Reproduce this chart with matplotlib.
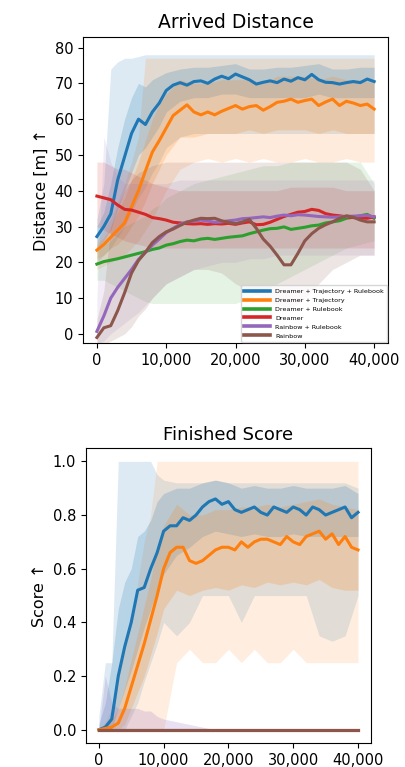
import matplotlib
matplotlib.use("Agg")
import matplotlib.pyplot as plt
from matplotlib.ticker import StrMethodFormatter

# Training steps for the mean curves and for the shaded bands
steps = [i * 1000 for i in range(41)]
band_steps = [0, 1000, 2000, 3000, 4000, 5000, 6000, 7000, 8000, 9000, 10000,
              12000, 14000, 16000, 18000, 20000, 22000, 24000, 26000, 28000,
              30000, 32000, 34000, 36000, 38000, 40000]

labels = [
    "Dreamer + Trajectory + Rulebook",
    "Dreamer + Trajectory",
    "Dreamer + Rulebook",
    "Dreamer",
    "Rainbow + Rulebook",
    "Rainbow",
]
colors = ["#1f77b4", "#ff7f0e", "#2ca02c", "#d62728", "#9467bd", "#8c564b"]

# ---- Arrived distance [m] ----
dist_dtr = [27.2, 30, 33.5, 43, 49.5, 56, 60, 58.5, 62, 64.5, 68, 69.5, 70.2, 69.5,
            70.5, 70.7, 70, 71.2, 72, 71.3, 72.6, 71.8, 71, 69.8, 70.3, 70.7, 70.2,
            71.2, 70.6, 71.6, 71, 72.5, 71, 70.3, 70.2, 69.8, 70.2, 70.5, 70.2, 71.2, 70.5]
dist_dt = [23.4, 25, 27, 29, 31, 35.5, 40, 45.5, 50.8, 54, 57.5, 61, 62.5, 64, 62,
           61.2, 62, 61.2, 62.2, 63, 63.8, 62.8, 63.5, 63.8, 62.5, 63.5, 64.7, 65,
           65.6, 64.7, 65.2, 65.6, 63.8, 64.8, 65.6, 63.8, 65, 64.5, 63.8, 64.2, 62.8]
dist_dr = [19.5, 20.2, 20.6, 21, 21.5, 22, 22.5, 23, 23.6, 24, 24.8, 25.2, 25.8, 26.2,
           26, 26.5, 26.7, 26.4, 26.7, 27, 27.2, 27.4, 28, 28.5, 29, 29.4, 29.5, 29.9,
           29.2, 29.5, 29.8, 30.2, 30.4, 31, 31.3, 31.6, 32.3, 32.6, 33, 33.4, 32.3]
dist_d = [38.5, 38, 37.5, 36, 34.8, 34.6, 34, 33.4, 32.5, 32.2, 31.8, 31.2, 31, 30.8,
          30.7, 30.8, 30.6, 30.8, 30.7, 30.9, 30.6, 31, 31.3, 30.5, 30.6, 31.2, 32,
          32.8, 33.4, 34, 34.2, 34.8, 34.5, 33.6, 33.2, 33, 32.7, 32.5, 32.4, 32.3, 32.7]
dist_rr = [0.7, 5, 10, 13, 15.5, 18, 20.8, 22.8, 24.8, 26.5, 28.3, 29.5, 30.6, 31.3,
           31.5, 31.8, 31.5, 31.2, 31.3, 31.6, 31.8, 32.2, 32.3, 32.5, 32.7, 32.5,
           32.9, 33.2, 33, 33.3, 33.2, 33, 32.8, 32.7, 32.6, 32.7, 32.8, 32.9, 33, 33.1, 32.7]
dist_r = [-1, 1.7, 2.3, 6.5, 11.5, 17, 20.5, 22.8, 25.5, 27.2, 28.5, 29.3, 30.3, 31.2,
          31.8, 32.3, 32.2, 32.3, 31.6, 31.2, 30.8, 31.3, 32, 29.5, 26.5, 24.5, 22,
          19.3, 19.3, 22.5, 26, 28, 29.5, 30.5, 31.3, 32.3, 33, 32.6, 31.8, 31.3, 31.3]

# bands: (lower, upper), inner spread and outer range
dist_dtr_in_lo = [24, 26, 29, 35, 40, 45, 50, 52, 55, 58, 62, 65, 66, 66, 67, 67, 66,
                  66, 66, 66, 66, 67, 66, 66, 66, 66]
dist_dtr_in_hi = [30, 34, 42, 52, 60, 66, 70, 69, 71, 72, 73, 74, 74.5, 74.5, 75, 75.5,
                  74, 74, 74.5, 74.5, 75, 75.5, 74, 74, 74.5, 74.5]
dist_dtr_out_lo = [20, 22, 24, 27, 30, 34, 38, 41, 45, 48, 52, 55, 56, 56, 56, 56, 56,
                   56, 56, 56, 56, 56, 56, 56, 56, 56]
dist_dtr_out_hi = [32, 42, 74, 76, 77, 77, 77.5, 78, 78, 78, 78, 78, 78, 78, 78, 78, 78,
                   78, 78, 78, 78, 78, 78, 78, 78, 78]
dist_dt_in_lo = [21, 22, 24, 25, 27, 30, 33, 37, 42, 46, 50, 55, 55, 56, 56, 56, 57, 56,
                 57, 57, 57, 56, 57, 56, 56, 56]
dist_dt_in_hi = [25, 27, 30, 34, 38, 43, 48, 54, 60, 64, 67, 71, 70, 70, 71, 71, 71, 70,
                 72, 72, 72, 71, 72, 71, 71, 70]
dist_dt_out_lo = [18, 19, 20, 21, 22, 24, 26, 29, 32, 36, 40, 46, 48, 49, 48, 49, 48,
                  49, 48, 48, 49, 48, 48, 49, 48, 48]
dist_dt_out_hi = [26, 29, 32, 37, 42, 48, 55, 77, 77, 77, 77, 77, 77, 77, 77, 77, 77, 77,
                  77, 77, 77, 77, 77, 77, 77, 77]
dist_dr_lo = [15, 15, 14, 13, 12, 11, 10, 9, 8.5, 8.5, 8.5, 8.5, 8.5, 8.5, 8.5, 8.5, 10,
              12, 14, 16, 18, 20, 22, 24, 25, 26]
dist_dr_hi = [24, 25, 26, 28, 30, 31, 32, 33, 35, 36, 38, 40, 42, 43, 44, 45, 46, 47, 47,
              48, 48, 48, 48, 48, 48, 42]
dist_d_lo = [30, 29, 28, 27, 26, 25.5, 25, 24.5, 24, 24, 24, 24, 24, 24, 24, 24, 24, 24,
             24, 24, 24, 24, 24, 24, 24, 24]
dist_d_hi = [48, 48, 47, 46, 46, 45, 44, 43, 42, 41.5, 41, 40, 40, 40, 40, 40, 40, 40,
             40, 41, 41, 41, 41, 40, 40, 40]
dist_rr_lo = [-3, -2, 0, 1.5, 3, 4.5, 6, 8, 10, 12, 14, 16, 18, 19, 20, 20, 21, 21, 22,
              22, 22, 22, 22, 22, 22, 22]
dist_rr_hi = [10, 55, 48, 44, 42, 42, 42, 42, 42, 42, 42, 43, 43, 43, 43, 43, 43, 43, 43,
              43, 43, 43, 43, 43, 43, 43]
dist_r_lo = [-3, -3, -2, -1, 0, 2, 5, 7, 10, 12, 14, 16, 18, 18, 17, 14, 12, 10, 8, 7,
             10, 14, 18, 20, 22, 22]
dist_r_hi = [4, 12, 30, 36, 40, 43, 45, 46, 47, 47.5, 48, 48, 48, 48, 48, 48, 48, 48, 48,
             48, 48, 48, 48, 48, 46, 40]

# ---- Finished score ----
score_dtr = [0, 0.01, 0.04, 0.2, 0.31, 0.4, 0.52, 0.53, 0.6, 0.66, 0.74, 0.76, 0.76,
             0.79, 0.78, 0.8, 0.83, 0.85, 0.86, 0.84, 0.85, 0.82, 0.81, 0.82, 0.83,
             0.81, 0.8, 0.83, 0.82, 0.81, 0.83, 0.82, 0.8, 0.83, 0.82, 0.8, 0.81, 0.82,
             0.83, 0.79, 0.81]
score_dt = [0, 0.005, 0.01, 0.025, 0.08, 0.16, 0.24, 0.32, 0.41, 0.5, 0.6, 0.66, 0.68,
            0.68, 0.63, 0.62, 0.63, 0.65, 0.67, 0.68, 0.68, 0.67, 0.7, 0.68, 0.7, 0.71,
            0.71, 0.7, 0.69, 0.72, 0.7, 0.69, 0.72, 0.73, 0.74, 0.71, 0.73, 0.69, 0.72,
            0.68, 0.67]
score_none = [0.0] * 41  # the remaining four agents never finish

score_dtr_in_lo = [0, 0, 0, 0.08, 0.15, 0.22, 0.3, 0.38, 0.45, 0.52, 0.58, 0.65, 0.68,
                   0.72, 0.74, 0.73, 0.72, 0.73, 0.72, 0.72, 0.73, 0.72, 0.72, 0.72,
                   0.72, 0.72]
score_dtr_in_hi = [0.02, 0.1, 0.25, 0.45, 0.55, 0.6, 0.72, 0.74, 0.78, 0.85, 0.88, 0.9,
                   0.9, 0.92, 0.93, 0.92, 0.9, 0.91, 0.9, 0.9, 0.91, 0.9, 0.9, 0.9,
                   0.91, 0.88]
score_dtr_out_lo = [0, 0, 0, 0, 0, 0.05, 0.1, 0.18, 0.25, 0.32, 0.4, 0.35, 0.4, 0.5,
                    0.5, 0.5, 0.4, 0.5, 0.5, 0.5, 0.5, 0.5, 0.35, 0.33, 0.35, 0.5]
score_dtr_out_hi = [0.05, 0.25, 0.25, 1.0, 1.0, 1.0, 1.0, 1.0, 1.0, 0.95, 0.93, 0.92,
                    0.92, 0.92, 0.93, 0.92, 0.92, 0.92, 0.92, 0.92, 0.92, 0.92, 0.92,
                    0.92, 0.92, 0.9]
score_dt_in_lo = [0, 0, 0, 0, 0.02, 0.08, 0.14, 0.2, 0.28, 0.36, 0.45, 0.52, 0.5, 0.52,
                  0.53, 0.52, 0.54, 0.53, 0.55, 0.54, 0.55, 0.54, 0.56, 0.53, 0.52, 0.52]
score_dt_in_hi = [0, 0.02, 0.04, 0.08, 0.16, 0.26, 0.36, 0.46, 0.56, 0.68, 0.76, 0.84,
                  0.8, 0.8, 0.82, 0.82, 0.83, 0.83, 0.84, 0.83, 0.84, 0.85, 0.86, 0.84,
                  0.83, 0.82]
score_dt_out_lo = [0, 0, 0, 0, 0, 0, 0, 0, 0, 0, 0, 0.25, 0.3, 0.25, 0.25, 0.3, 0.25,
                   0.3, 0.25, 0.25, 0.3, 0.25, 0.25, 0.25, 0.25, 0.25]
score_dt_out_hi = [0, 0.03, 0.08, 0.2, 0.3, 0.4, 0.55, 0.7, 0.8, 1.0, 1.0, 1.0, 1.0, 1.0,
                   1.0, 1.0, 1.0, 1.0, 1.0, 1.0, 1.0, 1.0, 1.0, 1.0, 1.0, 1.0]
score_rr_hi = [0, 0.2, 0.1, 0.08, 0.08, 0.08, 0.08, 0.07, 0.07, 0.05, 0.04, 0.03, 0.02,
               0.01, 0, 0, 0, 0, 0, 0, 0, 0, 0, 0, 0, 0]
score_rr_lo = [0] * 26


def draw_band(ax, lo, hi, color, alpha):
    ax.fill_between(band_steps, lo, hi, color=color, alpha=alpha, linewidth=0)


def plot_distance(ax):
    means = [dist_dtr, dist_dt, dist_dr, dist_d, dist_rr, dist_r]

    draw_band(ax, dist_dtr_out_lo, dist_dtr_out_hi, colors[0], 0.15)
    draw_band(ax, dist_dt_out_lo, dist_dt_out_hi, colors[1], 0.15)
    draw_band(ax, dist_dtr_in_lo, dist_dtr_in_hi, colors[0], 0.2)
    draw_band(ax, dist_dt_in_lo, dist_dt_in_hi, colors[1], 0.2)
    draw_band(ax, dist_dr_lo, dist_dr_hi, colors[2], 0.12)
    draw_band(ax, dist_d_lo, dist_d_hi, colors[3], 0.15)
    draw_band(ax, dist_rr_lo, dist_rr_hi, colors[4], 0.12)
    draw_band(ax, dist_r_lo, dist_r_hi, colors[5], 0.15)

    for values, label, color in zip(means, labels, colors):
        ax.plot(steps, values, color=color, label=label, linewidth=2.2)

    ax.set_title("Arrived Distance", fontsize=13.5)
    ax.set_ylabel("Distance [m] \u2191", fontsize=11.5)
    ax.set_yticks(range(0, 81, 10))
    ax.set_ylim(-2.5, 83)
    leg = ax.legend(loc="lower right", fontsize=4.6, handlelength=4, borderpad=0.5,
                    labelspacing=0.55, borderaxespad=0.15, framealpha=0.8)
    for line in leg.get_lines():
        line.set_linewidth(2.6)


def plot_score(ax):
    means = [score_dtr, score_dt, score_none, score_none, score_none, score_none]

    draw_band(ax, score_dtr_out_lo, score_dtr_out_hi, colors[0], 0.15)
    draw_band(ax, score_dt_out_lo, score_dt_out_hi, colors[1], 0.13)
    draw_band(ax, score_dtr_in_lo, score_dtr_in_hi, colors[0], 0.2)
    draw_band(ax, score_dt_in_lo, score_dt_in_hi, colors[1], 0.2)
    draw_band(ax, score_rr_lo, score_rr_hi, colors[4], 0.2)

    for values, label, color in zip(means, labels, colors):
        ax.plot(steps, values, color=color, label=label, linewidth=2.2)

    ax.set_title("Finished Score", fontsize=13)
    ax.set_ylabel("Score \u2191", fontsize=11.5)
    ax.set_ylim(-0.05, 1.05)


def main() -> None:
    fig = plt.figure(figsize=(4.05, 7.67), dpi=100)
    ax1 = fig.add_axes([0.205, 0.553, 0.753, 0.399])
    ax2 = fig.add_axes([0.212, 0.031, 0.704, 0.385])

    plot_distance(ax1)
    plot_score(ax2)

    for ax in (ax1, ax2):
        ax.set_xlim(-2000, 42000)
        ax.set_xticks([0, 10000, 20000, 30000, 40000])
        ax.xaxis.set_major_formatter(StrMethodFormatter("{x:,.0f}"))
        ax.tick_params(labelsize=10.5)

    fig.savefig("out.png", dpi=100)
    print("Saved out.png")


if __name__ == "__main__":
    main()
